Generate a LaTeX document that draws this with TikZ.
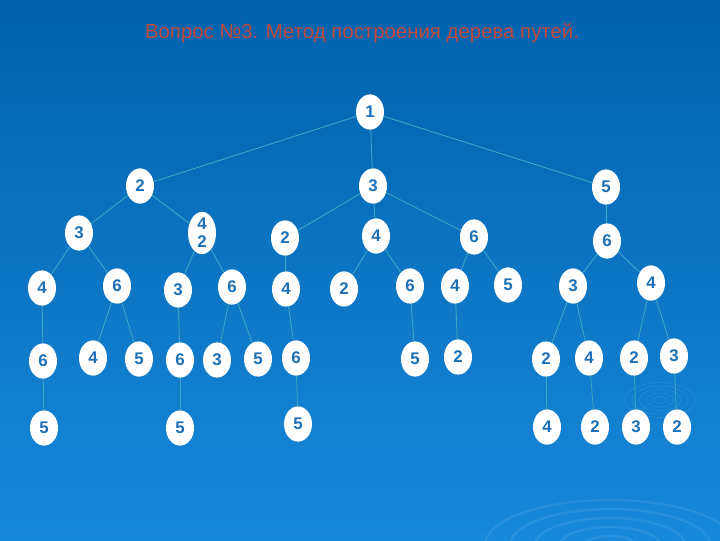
\documentclass[tikz,border=0pt]{standalone}
\usepackage{fontspec}
\setmainfont{Liberation Sans}
\usetikzlibrary{shapes.geometric}
\definecolor{bgtop}{RGB}{0,98,172}
\definecolor{bgbot}{RGB}{24,136,218}
\definecolor{edgec}{RGB}{64,166,196}
\definecolor{numc}{RGB}{28,112,182}
\definecolor{titlec}{RGB}{194,74,60}

\begin{document}
\begin{tikzpicture}[x=0.025cm,y=-0.025cm,
    vert/.style={ellipse,fill=white,minimum width=0.7cm,minimum height=0.88cm,
      inner sep=0pt,text=numc,font=\bfseries\fontsize{12}{12}\selectfont},
    edge/.style={draw=edgec,line width=0.6pt}]
      \useasboundingbox (0,0) rectangle (720,540);
      \shade[top color=bgtop,bottom color=bgbot] (0,0) rectangle (720,540);
      % ripples
      \begin{scope}
        \clip (0,0) rectangle (720,540);
        \foreach \i in {1,...,5} {
          \draw[white,opacity=0.08,line width=1.5pt] (610,545) ellipse ({25*\i} and {9*\i});
          \draw[white,opacity=0.1] (660,400) ellipse ({7*\i} and {3.5*\i});
        }
      \end{scope}
      \node[text=titlec,font=\fontsize{14.5}{16}\selectfont] (title) at (362,33)
        {Вопрос №3. Метод построения дерева путей.};
      \foreach \n/\x/\y/\t in {r/370/112/1, a/140/186/2, b/373/186/3, c/606/187/5,
          aa/79/233/3, ba/285/238/2, bb/376/236/4, bc/474/237/6, ca/607/241/6,
          aaa/42/288/4, aab/117/286/6, aba/178/290/3, abb/232/287/6, baa/286/289/4,
          bba/344/289/2, bbb/410/286/6, bca/455/286/4, bcb/508/285/5,
          caa/573/286/3, cab/651/283/4,
          aaaa/43/361/6, aaba/93/358/4, aabb/139/359/5, abaa/180/360/6,
          abba/217/360/3, abbb/258/359/5, baaa/296/358/6, bbba/415/359/5,
          bcaa/458/357/2, caaa/546/359/2, caab/589/358/4, caba/634/358/2, cabb/674/356/3,
          aaaaa/44/428/5, abaaa/180/428/5, baaaa/298/424/5,
          caaaa/547/427/4, caaba/595/427/2, cabaa/636/427/3, cabba/677/427/2}
        \node[vert] (\n) at (\x,\y) {\t};
      \node[vert,align=center] (ab) at (202,233) {4\\[1pt]2};
      \foreach \p/\q in {r/a, r/b, r/c, a/aa, a/ab, b/ba, b/bb, b/bc, c/ca,
          aa/aaa, aa/aab, ab/aba, ab/abb, ba/baa, bb/bba, bb/bbb, bc/bca, bc/bcb,
          ca/caa, ca/cab, aaa/aaaa, aab/aaba, aab/aabb, aba/abaa, abb/abba, abb/abbb,
          baa/baaa, bbb/bbba, bca/bcaa, caa/caaa, caa/caab, cab/caba, cab/cabb,
          aaaa/aaaaa, abaa/abaaa, baaa/baaaa, caaa/caaaa, caab/caaba, caba/cabaa, cabb/cabba}
        \draw[edge] (\p) -- (\q);
    \end{tikzpicture}
\end{document}
